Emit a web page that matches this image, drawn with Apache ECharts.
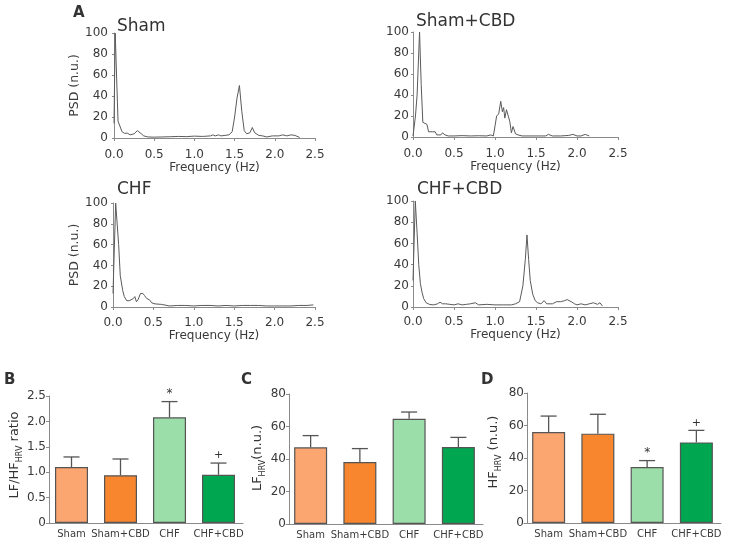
<!DOCTYPE html>
<html><head><meta charset="utf-8">
<script src="https://cdn.jsdelivr.net/npm/echarts@6/dist/echarts.min.js"></script>
<style>html,body{margin:0;padding:0;background:#fff}#c{width:729px;height:545px}</style>
</head><body><div id="c"></div><script>
// ---- Panel A: PSD spectra ----
const shamFreq=[0,0.015,0.05,0.07,0.1,0.13,0.17,0.2,0.25,0.29,0.31,0.34,0.37,0.42,0.5,0.6,0.7,0.8,0.9,1.0,1.1,1.2,1.23,1.26,1.3,1.33,1.38,1.43,1.47,1.5,1.53,1.56,1.59,1.62,1.65,1.69,1.72,1.75,1.8,1.85,1.9,1.92,1.97,2.05,2.1,2.15,2.2,2.25,2.31];
const shamPsd=[14,100,16,15,6,4.5,4.5,3,4,7,8.5,4,2,1,0.8,1,1.2,1.5,1.3,1.8,1.5,2,3,2,3,2,2.5,3,6,20,38,50,25,7,4,5,10,5,2.5,2,1,2.5,2,2,3,2,3,2.5,0.5];
const shamCbdFreq=[0,0.03,0.05,0.08,0.1,0.12,0.14,0.17,0.19,0.21,0.24,0.27,0.29,0.31,0.34,0.36,0.39,0.43,0.5,0.6,0.7,0.8,0.9,0.95,0.98,1.0,1.02,1.045,1.07,1.09,1.105,1.12,1.14,1.16,1.18,1.2,1.22,1.25,1.28,1.33,1.45,1.55,1.62,1.65,1.7,1.8,1.9,1.95,2.0,2.05,2.1,2.12,2.15];
const shamCbdPsd=[1,20,40,100,50,14,13,12,5,4,5,5,2,3,2,4,2,1,1,1.3,1,1.2,1,2,1,2,20,22,34,24,28,18,26,26,15,4,10,3,2,1,1,1,1,2.5,1,1,1.5,2.5,1,1,2.5,1,1];
const chfFreq=[0,0.033,0.05,0.07,0.09,0.12,0.14,0.17,0.2,0.22,0.25,0.27,0.29,0.31,0.34,0.37,0.39,0.42,0.45,0.48,0.52,0.6,0.7,0.8,0.9,1.0,1.1,1.2,1.3,1.4,1.5,1.6,1.7,1.8,1.9,2.0,2.1,2.2,2.3,2.4,2.48];
const chfPsd=[13,100,99,60,30,16,10,6,6,5,8,10,5,7,13,13,11,8,7,4,3,2.5,1,1.5,1.5,1,1.5,1.5,1,1.5,1,1.5,1.5,1.5,1,1,1,1,1.5,1.5,2];
const chfCbdFreq=[0,0.028,0.05,0.07,0.09,0.11,0.13,0.16,0.2,0.25,0.3,0.33,0.36,0.4,0.45,0.5,0.55,0.6,0.65,0.7,0.76,0.8,0.9,1.0,1.1,1.2,1.25,1.3,1.34,1.37,1.39,1.41,1.43,1.46,1.49,1.52,1.56,1.6,1.63,1.65,1.7,1.75,1.8,1.85,1.88,1.9,1.93,1.97,2.0,2.05,2.1,2.15,2.2,2.25,2.28,2.31];
const chfCbdPsd=[25,100,70,40,22,14,8,4,2.5,2,3,4.5,3,3,2.5,2,3,2,2.5,3,4,2,2.5,2,2,2,3,5,20,45,68,45,25,12,6,4,3,6,3,4,3,5,5,6,7,8,5,3,2,3,2,3,4,2.5,4,1];
const spectraTitles=['Sham','Sham+CBD','CHF','CHF+CBD'];

// ---- Panels B, C, D: bar charts ----
const groups=['Sham','Sham+CBD','CHF','CHF+CBD'];
const lfhfMean=[1.10,0.94,2.08,0.95];
const lfhfSem=[0.20,0.32,0.31,0.23];
const lfhfMarks=['','','*','+'];
const lfMean=[47.2,38.2,64.8,47.4];
const lfSem=[7.2,8.2,4.1,5.9];
const lfMarks=['','','',''];
const hfMean=[56,55,34.5,49.6];
const hfSem=[9.8,11.9,3.9,7.4];
const hfMarks=['','','*','+'];

const barColors=['#FBA571','#F7862E','#9BDEA9','#00A650'];
const FONT='DejaVu Sans';
const TXT='#3a3a3a';
const AX='#8a8a8a';

const chart=echarts.init(document.getElementById('c'),null,{renderer:'canvas'});

const spectra=[[shamFreq,shamPsd],[shamCbdFreq,shamCbdPsd],[chfFreq,chfPsd],[chfCbdFreq,chfCbdPsd]];
const grids=[
 {left:114,top:33,width:201,height:105},
 {left:413,top:32,width:205,height:105},
 {left:113,top:203,width:202,height:104},
 {left:413,top:201,width:205,height:106},
 {left:47,top:396,width:196,height:127},
 {left:286,top:394,width:197,height:130},
 {left:524,top:393,width:197,height:130}
];
const xOff=[7,7,6,5];
const yOff=[4,2,3,2];
const xAxes=[],yAxes=[],series=[];
for(let i=0;i<4;i++){
  xAxes.push({gridIndex:i,type:'value',min:0,max:2.5,interval:0.5,offset:xOff[i],
    axisLine:{show:true,lineStyle:{color:AX,width:1}},
    axisTick:{show:true,length:3,lineStyle:{color:AX}},
    splitLine:{show:false},
    axisLabel:{fontFamily:FONT,fontSize:12,color:TXT,margin:4,formatter:v=>v.toFixed(1)},
    name:'Frequency (Hz)',nameLocation:'middle',nameGap:17,
    nameTextStyle:{fontFamily:FONT,fontSize:12,color:TXT}});
  const ya={gridIndex:i,type:'value',min:0,max:100,interval:20,offset:yOff[i],
    axisLine:{show:true,lineStyle:{color:AX,width:1}},
    axisTick:{show:true,length:2,lineStyle:{color:AX}},
    splitLine:{show:false},
    axisLabel:{fontFamily:FONT,fontSize:12,color:TXT,margin:2}};
  if(i%2===0){ya.name='PSD (n.u.)';ya.nameLocation='middle';ya.nameRotate=90;ya.nameGap=27;
    ya.nameTextStyle={fontFamily:FONT,fontSize:12.5,color:TXT};}
  yAxes.push(ya);
  const [fq,ps]=spectra[i];
  series.push({type:'line',xAxisIndex:i,yAxisIndex:i,data:fq.map((f,k)=>[f,ps[k]]),
    showSymbol:false,symbol:'none',lineStyle:{color:'#5a5a5a',width:1},silent:true,animation:false});
}
const barSets=[
 {mean:lfhfMean,sem:lfhfSem,marks:lfhfMarks,max:2.5,interval:0.5,fmt:v=>v===0?'0':v.toFixed(1),yoff:-2},
 {mean:lfMean,sem:lfSem,marks:lfMarks,max:80,interval:20,fmt:v=>String(v),yoff:-3},
 {mean:hfMean,sem:hfSem,marks:hfMarks,max:80,interval:20,fmt:v=>String(v),yoff:-3}
];
barSets.forEach((b,j)=>{
  const gi=4+j;
  xAxes.push({gridIndex:gi,type:'category',data:groups,
    axisLine:{show:true,lineStyle:{color:AX,width:1}},axisTick:{show:false},
    axisLabel:{fontFamily:FONT,fontSize:10,color:TXT,margin:6,interval:0}});
  yAxes.push({gridIndex:gi,type:'value',min:0,max:b.max,interval:b.interval,offset:b.yoff,
    axisLine:{show:true,lineStyle:{color:AX,width:1}},
    axisTick:{show:true,length:3,lineStyle:{color:AX}},
    splitLine:{show:false},
    axisLabel:{fontFamily:FONT,fontSize:12,color:TXT,margin:3,formatter:b.fmt}});
  series.push({type:'bar',xAxisIndex:gi,yAxisIndex:gi,barWidth:33,animation:false,
    data:b.mean.map((v,k)=>({value:v,itemStyle:{color:barColors[k],borderColor:'#555',borderWidth:1.2}}))});
  series.push({type:'custom',xAxisIndex:gi,yAxisIndex:gi,animation:false,z:5,
    data:b.mean.map((v,k)=>[k,v,b.sem[k],k]),
    renderItem:(params,api)=>{
      const k=api.value(0),m=api.value(1),s=api.value(2);
      const p0=api.coord([k,m]),p1=api.coord([k,m+s]);
      const st={stroke:'#555',lineWidth:1.3};
      const ch=[
        {type:'line',shape:{x1:p0[0],y1:p0[1],x2:p1[0],y2:p1[1]},style:st},
        {type:'line',shape:{x1:p1[0]-8,y1:p1[1],x2:p1[0]+8,y2:p1[1]},style:st}];
      const mk=b.marks[api.value(3)];
      if(mk){ch.push({type:'text',style:{x:p1[0],y:p1[1]-2,text:mk,fill:'#333',
        font:(mk==='*'?'12px ':'11px ')+FONT,textAlign:'center',textVerticalAlign:'bottom'}});}
      return {type:'group',children:ch};
    }});
});

const titleText=(t,x,y,size,bold)=>({type:'text',left:x,top:y,
  style:{text:t,font:(bold?'bold ':'')+size+'px '+FONT,fill:'#333'}});
const rotText=(rich,x,y)=>({type:'text',x:x,y:y,rotation:Math.PI/2,
  style:{text:rich,fill:'#333',align:'center',verticalAlign:'middle',
    rich:{m:{fontFamily:FONT,fontSize:13,lineHeight:18,fill:'#333'},
          s:{fontFamily:FONT,fontSize:8,lineHeight:8,verticalAlign:'bottom',fill:'#333'}}}});

chart.setOption({
  backgroundColor:'#fff',animation:false,
  grid:grids,xAxis:xAxes,yAxis:yAxes,series:series,
  graphic:[
    titleText('A',73,6,15,true),
    titleText(spectraTitles[0],117,18,17,false),
    titleText(spectraTitles[1],416,13,17,false),
    titleText(spectraTitles[2],117,181,17,false),
    titleText(spectraTitles[3],417,181,17,false),
    titleText('B',4,373,15,true),
    titleText('C',241,373,15,true),
    titleText('D',481,373,15,true),
    rotText('{m|LF/HF}{s|HRV}{m| ratio}',15,455),
    rotText('{m|LF}{s|HRV}{m|(n.u.)}',258,458),
    rotText('{m|HF}{s|HRV}{m| (n.u.)}',494,452)
  ]
});
</script></body></html>
